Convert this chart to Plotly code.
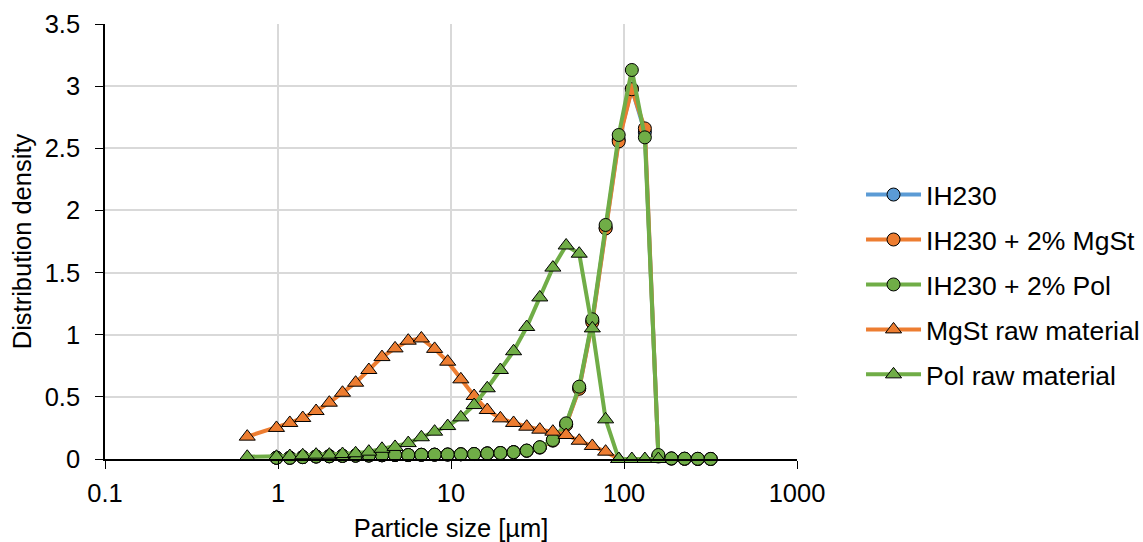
import plotly.graph_objects as go

# Particle size grid (µm)
size_grid = [0.98, 1.17, 1.39, 1.66, 1.98, 2.36, 2.81, 3.35, 3.99, 4.75,
             5.66, 6.74, 8.04, 9.57, 11.4, 13.6, 16.2, 19.3, 23.0, 27.4,
             32.6, 38.8, 46.3, 55.1, 65.6, 78.3, 93.2, 111, 132, 158,
             188, 224, 267, 317]
raw_sizes = [0.664] + size_grid[:30]

ih230 = [0.01, 0.01, 0.015, 0.02, 0.022, 0.025, 0.027, 0.028, 0.03, 0.032,
         0.032, 0.034, 0.035, 0.036, 0.038, 0.04, 0.045, 0.048, 0.055, 0.067,
         0.093, 0.15, 0.28, 0.57, 1.11, 1.86, 2.57, 2.98, 2.63, 0.025,
         0.004, 0.002, 0.001, 0.0]
ih230_mgst = [0.01, 0.01, 0.015, 0.02, 0.022, 0.025, 0.027, 0.028, 0.03, 0.032,
              0.032, 0.034, 0.035, 0.036, 0.038, 0.04, 0.045, 0.048, 0.055, 0.066,
              0.092, 0.148, 0.275, 0.565, 1.10, 1.855, 2.555, 2.975, 2.66, 0.02,
              0.003, 0.001, 0.0, 0.0]
ih230_pol = [0.01, 0.01, 0.015, 0.02, 0.022, 0.025, 0.027, 0.028, 0.03, 0.032,
             0.032, 0.034, 0.035, 0.036, 0.038, 0.04, 0.045, 0.048, 0.055, 0.068,
             0.095, 0.153, 0.287, 0.582, 1.124, 1.883, 2.607, 3.13, 2.588, 0.032,
             0.005, 0.003, 0.002, 0.001]
mgst_raw = [0.18, 0.25, 0.29, 0.33, 0.386, 0.453, 0.533, 0.614, 0.716, 0.82,
            0.89, 0.952, 0.97, 0.886, 0.783, 0.641, 0.507, 0.394, 0.327, 0.29,
            0.26, 0.236, 0.22, 0.193, 0.147, 0.105, 0.059, 0.0]
pol_raw = [0.018, 0.018, 0.024, 0.03, 0.035, 0.035, 0.04, 0.046, 0.059, 0.082,
           0.097, 0.128, 0.175, 0.22, 0.265, 0.335, 0.434, 0.569, 0.716, 0.867,
           1.062, 1.30, 1.54, 1.718, 1.652, 1.051, 0.319, 0.0, 0.0, 0.0, 0.0]

BLUE, ORANGE, GREEN = "#5B9BD5", "#ED7D31", "#70AD47"
FONT = "Liberation Sans, Arial, sans-serif"
FS = 25.5

fig = go.Figure()
series = [
    ("IH230", size_grid, ih230, BLUE, "circle", 13),
    ("IH230 + 2% MgSt", size_grid, ih230_mgst, ORANGE, "circle", 13),
    ("IH230 + 2% Pol", size_grid, ih230_pol, GREEN, "circle", 13),
    ("MgSt raw material", raw_sizes[:len(mgst_raw)], mgst_raw, ORANGE, "triangle-up", 14),
    ("Pol raw material", raw_sizes[:len(pol_raw)], pol_raw, GREEN, "triangle-up", 14),
]
for i, (name, xs, ys, col, sym, sz) in enumerate(series):
    fig.add_trace(go.Scatter(
        x=xs, y=ys, name=name, mode="lines+markers",
        line=dict(color=col, width=4),
        marker=dict(symbol=sym, size=sz, color=col, line=dict(color="black", width=1)),
        cliponaxis=False, legendgroup=f"g{i}",
    ))

fig.update_layout(
    width=1143, height=542,
    margin=dict(l=105, r=346, t=24, b=83, autoexpand=False),
    paper_bgcolor="white", plot_bgcolor="white",
    font=dict(family=FONT, size=FS, color="black"),
    showlegend=True,
    legend=dict(xref="container", yref="container",
                x=0.7533, y=0.4745, xanchor="left", yanchor="middle",
                font=dict(size=26.5, family=FONT), tracegroupgap=7.5,
                itemwidth=55, bgcolor="rgba(0,0,0,0)"),
)
fig.update_xaxes(
    type="log", range=[-1, 3], automargin=False,
    tickvals=[0.1, 1, 10, 100, 1000], ticktext=["0.1", "1", "10", "100", "1000"],
    showgrid=True, gridcolor="#D9D9D9", gridwidth=1.5,
    showline=True, linecolor="black", linewidth=1.5,
    ticks="outside", ticklen=8, tickcolor="black",
    tickfont=dict(size=FS), zeroline=False, ticklabelstandoff=3,
    title=dict(text="Particle size [µm]", font=dict(size=FS), standoff=22),
)
fig.update_yaxes(
    range=[0, 3.5], dtick=0.5, tick0=0, automargin=False,
    showgrid=True, gridcolor="#D9D9D9", gridwidth=1.5,
    showline=True, linecolor="black", linewidth=1.5,
    ticks="outside", ticklen=8, tickcolor="black",
    tickfont=dict(size=FS), zeroline=False, ticklabelstandoff=10,
    title=dict(text="Distribution density", font=dict(size=FS), standoff=6),
)

fig.write_html("out.html")
